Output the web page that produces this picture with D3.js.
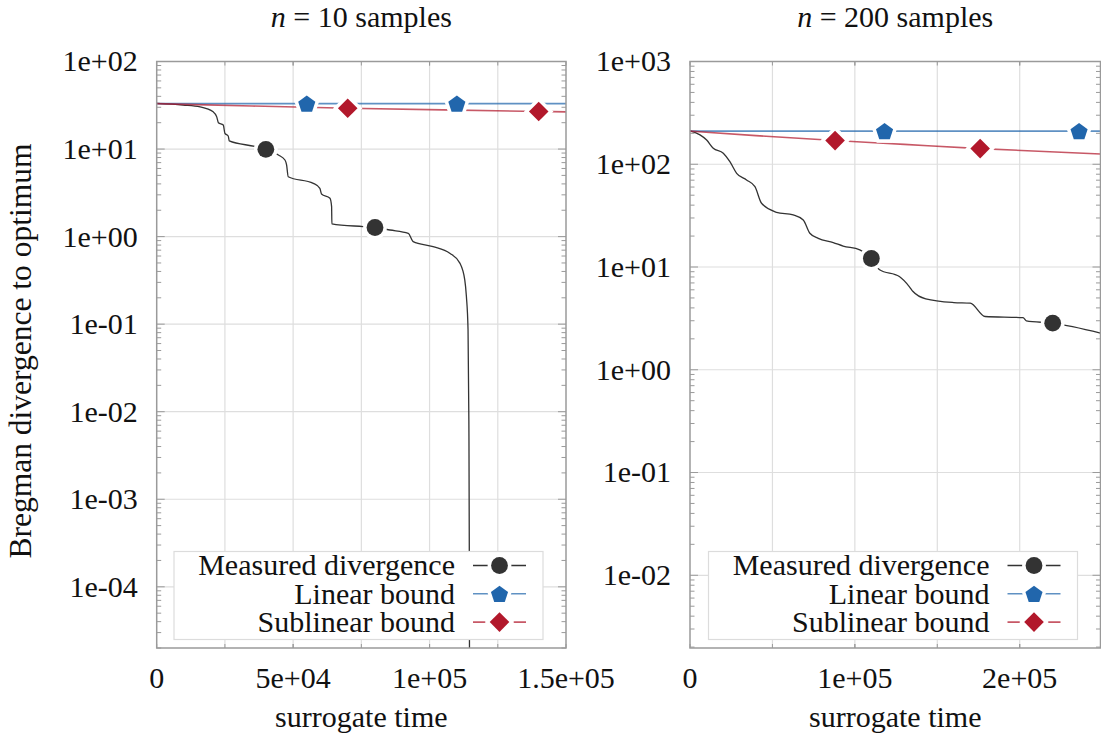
<!DOCTYPE html>
<html>
<head>
<meta charset="utf-8">
<script src="https://cdn.jsdelivr.net/npm/d3@7"></script>
<style>
  body { margin: 0; background: #fff; }
</style>
</head>
<body>
<div id="chart"></div>
<script>
// ---- data (time, divergence) ----
const leftMeasured = [[0,33.2],[9.7e3,31.8],[1.59e4,30.3],[2.07e4,26.6],[2.2e4,23.3],[2.26e4,20],[2.44e4,18.8],
  [2.5e4,15.1],[2.62e4,14.1],[2.66e4,12.4],[3.6e4,10.7],[4e4,9.93],[4.46e4,8.55],[4.7e4,7.5],[4.76e4,6.58],
  [4.82e4,4.83],[5.74e4,4.06],[5.98e4,3.56],[6.04e4,3.07],[6.35e4,2.74],[6.41e4,2.2],[6.42e4,1.40],[7.57e4,1.30],
  [8e4,1.27],[8.55e4,1.19],[9.22e4,1.09],[9.4e4,0.877],[1.013e5,0.769],[1.074e5,0.647],[1.111e5,0.498],
  [1.129e5,0.321],[1.135e5,0.207],[1.141e5,0.0863],[1.144e5,0.0081],[1.146e5,1e-4],[1.147e5,1e-7]];
const leftLinear = [[0,33],[1.5e5,33]];
const leftSublinear = [[0,33],[3.5e4,31],[7e4,29.3],[1.05e5,28],[1.4e5,26.9],[1.5e5,26.6]];
const leftMeasuredMarks = [[4e4,9.93],[8e4,1.27]];
const leftLinearMarks = [[5.5e4,33],[1.1e5,33]];
const leftSublinearMarks = [[7e4,29.3],[1.4e5,26.9]];

const rightMeasured = [[0,211],[6.06e3,193],[1.01e4,172],[1.41e4,143],[2.02e4,128],[2.42e4,106],[2.83e4,81.7],
  [3.43e4,70.3],[3.94e4,60.5],[4.34e4,41.7],[5.25e4,34.1],[6.26e4,32.1],[6.87e4,28.7],[7.27e4,21.3],[7.78e4,19.0],
  [8.69e4,17.3],[9.29e4,16.0],[1.03e5,14.7],[1.1e5,12.1],[1.15e5,9.4],[1.27e5,8.07],[1.33e5,6.45],[1.353e5,5.77],
  [1.43e5,4.9],[1.6e5,4.51],[1.7e5,4.45],[1.79e5,3.30],[2.02e5,3.22],[2.04e5,2.99],[2.2e5,2.84],[2.49e5,2.27]];
const rightLinear = [[0,210],[2.49e5,210]];
const rightSublinear = [[0,210],[4e4,190],[8.8e4,170],[1.3e5,156],[1.76e5,142],[2.49e5,126]];
const rightMeasuredMarks = [[1.1e5,12.1],[2.2e5,2.84]];
const rightLinearMarks = [[1.18e5,210],[2.36e5,210]];
const rightSublinearMarks = [[8.8e4,170],[1.76e5,142]];

// axis ticks
const leftXTicks = [0, 5e4, 1e5, 1.5e5];
const leftXLabels = ["0", "5e+04", "1e+05", "1.5e+05"];
const leftXGrid = [2.5e4, 5e4, 7.5e4, 1e5, 1.25e5];
const leftYTicks = [1e2, 1e1, 1e0, 1e-1, 1e-2, 1e-3, 1e-4];
const leftYLabels = ["1e+02", "1e+01", "1e+00", "1e-01", "1e-02", "1e-03", "1e-04"];

const rightXTicks = [0, 1e5, 2e5];
const rightXLabels = ["0", "1e+05", "2e+05"];
const rightXGrid = [5e4, 1e5, 1.5e5, 2e5];
const rightYTicks = [1e3, 1e2, 1e1, 1e0, 1e-1, 1e-2];
const rightYLabels = ["1e+03", "1e+02", "1e+01", "1e+00", "1e-01", "1e-02"];

const seriesNames = ["Measured divergence", "Linear bound", "Sublinear bound"];
const seriesColors = ["#333333", "#2166ac", "#b2182b"];

const FS = 30; // font size for all texts

// ---- custom marker shapes ----
const pentagon = {
  draw(ctx, size) {
    const r = Math.sqrt(size);
    for (let i = 0; i < 5; i++) {
      const a = -Math.PI / 2 + i * 2 * Math.PI / 5;
      const px = r * Math.cos(a), py = r * Math.sin(a) + r * 0.1;
      if (i === 0) ctx.moveTo(px, py); else ctx.lineTo(px, py);
    }
    ctx.closePath();
  }
};
const squareDiamond = {
  draw(ctx, size) {
    const r = Math.sqrt(size);
    ctx.moveTo(0, -r); ctx.lineTo(r, 0); ctx.lineTo(0, r); ctx.lineTo(-r, 0); ctx.closePath();
  }
};
const markerPaths = [
  d3.symbol().type(d3.symbolCircle).size(Math.PI * 8.4 * 8.4)(),
  d3.symbol().type(pentagon).size(9 * 9)(),
  d3.symbol().type(squareDiamond).size(9.8 * 9.8)()
];

const W = 1101, H = 736;
const svg = d3.select("#chart").append("svg").attr("width", W).attr("height", H);

// every text goes through this so the serif family is set on the element itself
function txt(sel) {
  return sel.append("text").attr("font-family", "Liberation Serif").attr("font-size", FS).attr("fill", "#111");
}

function drawPanel(cfg) {
  const x = d3.scaleLinear().domain(cfg.xDomain).range([cfg.x0, cfg.x1]);
  const y = d3.scaleLog().domain(cfg.yDomain).range([cfg.y1, cfg.y0]);
  const g = svg.append("g");

  // grid
  g.selectAll(".gx").data(cfg.xGrid).enter().append("line")
    .attr("x1", d => x(d)).attr("x2", d => x(d)).attr("y1", cfg.y0).attr("y2", cfg.y1)
    .attr("stroke", "#dedede").attr("stroke-width", 1.2);
  g.selectAll(".gy").data(cfg.yTicks).enter().append("line")
    .attr("x1", cfg.x0).attr("x2", cfg.x1).attr("y1", d => y(d)).attr("y2", d => y(d))
    .attr("stroke", "#dedede").attr("stroke-width", 1.2);

  // clip
  const clipId = "clip" + cfg.id;
  svg.append("clipPath").attr("id", clipId).append("rect")
    .attr("x", cfg.x0).attr("y", cfg.y0).attr("width", cfg.x1 - cfg.x0).attr("height", cfg.y1 - cfg.y0);
  const plot = g.append("g").attr("clip-path", `url(#${clipId})`);

  const line = d3.line().x(d => x(d[0])).y(d => y(d[1])).curve(d3.curveMonotoneX);
  const series = [
    { data: cfg.measured, marks: cfg.measuredMarks, opacity: 1, width: 1.3 },
    { data: cfg.linear, marks: cfg.linearMarks, opacity: 0.72, width: 1.6 },
    { data: cfg.sublinear, marks: cfg.sublinearMarks, opacity: 0.72, width: 1.6 }
  ];
  series.forEach((s, i) => {
    plot.append("path").datum(s.data).attr("d", line)
      .attr("fill", "none").attr("stroke", seriesColors[i])
      .attr("stroke-opacity", s.opacity).attr("stroke-width", s.width);
  });
  series.forEach((s, i) => {
    plot.selectAll(null).data(s.marks).enter().append("path")
      .attr("d", markerPaths[i])
      .attr("transform", d => `translate(${x(d[0])},${y(d[1])})`)
      .attr("fill", seriesColors[i]).attr("stroke", "#fff").attr("stroke-width", 7)
      .style("paint-order", "stroke");
  });

  // frame
  g.append("rect").attr("x", cfg.x0).attr("y", cfg.y0)
    .attr("width", cfg.x1 - cfg.x0).attr("height", cfg.y1 - cfg.y0)
    .attr("fill", "none").attr("stroke", "#9a9a9a").attr("stroke-width", 1.5);

  // ticks (major + minor on left/right, x ticks top/bottom, all inward)
  const [lo, hi] = cfg.yDomain;
  const minor = y.ticks().filter(v => v >= lo && v <= hi);
  [cfg.x0, cfg.x1].forEach((ex, side) => {
    const dir = side === 0 ? 1 : -1;
    g.selectAll(null).data(minor).enter().append("line")
      .attr("x1", ex).attr("x2", d => ex + dir * (cfg.yTicks.includes(d) ? 8 : 4.5))
      .attr("y1", d => y(d)).attr("y2", d => y(d))
      .attr("stroke", "#9a9a9a").attr("stroke-width", 1);
    const xt = cfg.xGrid.concat(cfg.xTicks);
    const ey = side === 0 ? cfg.y1 : cfg.y0;
    const dy = side === 0 ? -1 : 1;
    g.selectAll(null).data(xt).enter().append("line")
      .attr("x1", d => x(d)).attr("x2", d => x(d)).attr("y1", ey).attr("y2", ey + dy * 4)
      .attr("stroke", "#9a9a9a").attr("stroke-width", 1);
  });

  // tick labels
  cfg.yTicks.forEach((v, i) => {
    txt(g).attr("x", cfg.x0 - 19).attr("y", y(v)).attr("dy", "0.33em")
      .attr("text-anchor", "end").text(cfg.yLabels[i]);
  });
  cfg.xTicks.forEach((v, i) => {
    txt(g).attr("x", x(v)).attr("y", 688).attr("text-anchor", "middle").text(cfg.xLabels[i]);
  });

  // axis label + title
  const cx = (cfg.x0 + cfg.x1) / 2;
  txt(g).attr("x", cx).attr("y", 727).attr("text-anchor", "middle").text("surrogate time");
  const t = txt(g).attr("x", cx).attr("y", 27).attr("text-anchor", "middle");
  t.append("tspan").attr("font-style", "italic").text("n");
  t.append("tspan").text(` = ${cfg.n} samples`);

  // legend
  const lw = 369, lh = 88;
  const lx = cfg.x1 - 23 - lw, ly = cfg.y1 - 8.5 - lh;
  const leg = g.append("g").attr("transform", `translate(${lx},${ly})`);
  leg.append("rect").attr("width", lw).attr("height", lh)
    .attr("fill", "#fff").attr("stroke", "#dcdcdc").attr("stroke-width", 1.2);
  seriesNames.forEach((name, i) => {
    const cy = 14 + i * 28.3;
    txt(leg).attr("x", 281).attr("y", cy).attr("dy", "0.33em")
      .attr("text-anchor", "end").text(name);
    leg.append("line").attr("x1", 299).attr("x2", 352).attr("y1", cy).attr("y2", cy)
      .attr("stroke", seriesColors[i]).attr("stroke-width", i === 0 ? 1.3 : 1.6)
      .attr("stroke-opacity", i === 0 ? 1 : 0.72);
    leg.append("path").attr("d", markerPaths[i]).attr("transform", `translate(325.5,${cy})`)
      .attr("fill", seriesColors[i]).attr("stroke", "#fff").attr("stroke-width", 7)
      .style("paint-order", "stroke");
  });
}

drawPanel({
  id: "L", n: 10, x0: 156.7, x1: 566, y0: 61.5, y1: 648,
  xDomain: [0, 1.5e5], yDomain: [2e-5, 100],
  xTicks: leftXTicks, xLabels: leftXLabels, xGrid: leftXGrid,
  yTicks: leftYTicks, yLabels: leftYLabels,
  measured: leftMeasured, linear: leftLinear, sublinear: leftSublinear,
  measuredMarks: leftMeasuredMarks, linearMarks: leftLinearMarks, sublinearMarks: leftSublinearMarks
});
drawPanel({
  id: "R", n: 200, x0: 690, x1: 1100.5, y0: 61.5, y1: 648,
  xDomain: [0, 2.49e5], yDomain: [1.96e-3, 1000],
  xTicks: rightXTicks, xLabels: rightXLabels, xGrid: rightXGrid,
  yTicks: rightYTicks, yLabels: rightYLabels,
  measured: rightMeasured, linear: rightLinear, sublinear: rightSublinear,
  measuredMarks: rightMeasuredMarks, linearMarks: rightLinearMarks, sublinearMarks: rightSublinearMarks
});

// shared y label
txt(svg).attr("transform", "translate(31,351) rotate(-90)")
  .attr("font-size", 31.5)
  .attr("text-anchor", "middle")
  .text("Bregman divergence to optimum");
</script>
</body>
</html>
